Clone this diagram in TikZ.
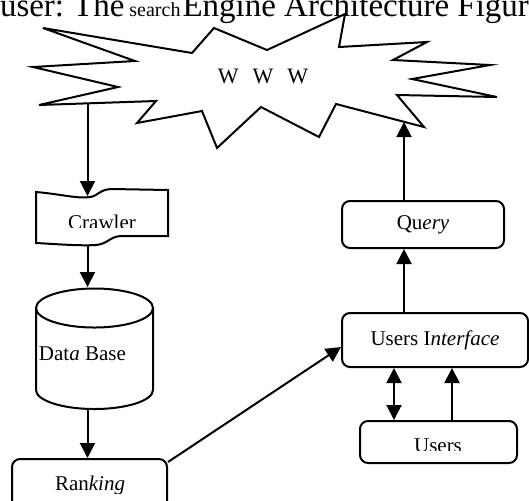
\documentclass[tikz,border=0pt]{standalone}
\usepackage{fontspec}
\setmainfont{Liberation Serif}
\usetikzlibrary{arrows.meta,calc,positioning,shapes.geometric}

\begin{document}
\begin{tikzpicture}[x=.5pt,y=-.5pt,
  line width=1pt,
  >={Triangle[length=7.5pt,width=7.5pt]},
  box/.style={draw,rounded corners=4pt,inner sep=0pt,
              font=\fontsize{10.5}{12}\selectfont},
  lab/.style={font=\fontsize{10.5}{12}\selectfont,inner sep=0pt,anchor=base}]
  \useasboundingbox (0,0) rectangle (529,500);
  \clip (0,0) rectangle (529,500);

  % caption line, cut by the top edge
  \node[anchor=base west,inner sep=0pt] (title) at (-1,16.5)
    {{\fontsize{16.5}{18}\selectfont user:\hspace{4.5pt}The\hspace{2.5pt}}%
     {\fontsize{10}{12}\selectfont search}%
     {\fontsize{16.5}{18}\selectfont\hspace{1pt}Engine Architecture Figure}};

  % the web
  \draw (43,28) -- (192,53) -- (214,28) -- (267,50) -- (345,14) -- (339,47)
    -- (427,42) -- (393,60) -- (490,65) -- (412,79) -- (497,97) -- (397,95)
    -- (424,127) -- (336,104) -- (319,137) -- (261,107) -- (217,148)
    -- (202,111) -- (137,123) -- (156,101) -- (39,105) -- (118,87)
    -- (33,67) -- (135,61) -- cycle;
  \node[inner sep=0pt,anchor=base,font=\fontsize{11}{12}\selectfont] (www)
    at (263,83) {W\hspace{7pt}W\hspace{7pt}W};
  \coordinate (lcol) at (87.5,103);
  \coordinate (rcol) at (404,122);

  % crawler (punched tape)
  \node[minimum width=66pt,minimum height=24pt,inner sep=0pt] (crawler) at (102,221) {};
  \draw (36,192) .. controls (60,194) and (78,199) .. (90,197)
    .. controls (98,196) and (100,189) .. (112,189) -- (168,190) -- (168,236)
    -- (122,236) .. controls (110,236) and (108,244) .. (96,245)
    .. controls (80,246) and (55,244) .. (36,243) -- cycle;
  \begin{scope}
    \clip (36,180) rectangle (168,227);
    \node[lab] (crawlertxt) at (102,229.5) {Crawler};
  \end{scope}

  % data base
  \node[minimum width=58.5pt,minimum height=60.5pt,inner sep=0pt] (db) at (94.5,348.5) {};
  \draw (36,308) -- (36,390)
    arc[start angle=180,end angle=360,x radius=29.25pt,y radius=9.5pt] -- (153,308);
  \draw (94.5,308) ellipse[x radius=29.25pt,y radius=9.75pt];
  \node[lab,anchor=base west] (dbtxt) at (38,360) {Dat\textit{a} Base};

  % ranking, cut by the bottom edge
  \node[box,minimum width=77.5pt,minimum height=25.5pt] (rank) at (89.5,484.5) {};
  \begin{scope}
    \clip (12,459) rectangle (167,493);
    \node[lab] (ranktxt) at (90,490) {Ran\textit{king}};
  \end{scope}

  % user side
  \node[box,minimum width=81pt,minimum height=23.5pt] (query) at (423,224.5) {Qu\textit{ery}};
  \node[box,minimum width=93pt,minimum height=27pt] (ui) at (435,340) {Users I\textit{nterface}};
  \node[box,minimum width=78.5pt,minimum height=21pt] (users) at (438.5,442) {};
  \begin{scope}
    \clip (360,421) rectangle (517,450);
    \node[lab] (userstxt) at (438,452) {Users};
  \end{scope}
  \coordinate (both) at (394,400);
  \coordinate (up) at (452,400);

  \draw[->] (lcol) -- (lcol |- crawler.north);
  \draw[->] (crawler.south -| lcol) -- (db.north -| lcol);
  \draw[->] (db.south -| lcol) -- (rank.north -| lcol);
  \draw[->] ([yshift=-2pt]rank.north east) -- ([yshift=-3.5pt]ui.west);
  \draw[->] (ui.north -| rcol) -- (query.south -| rcol);
  \draw[->] (query.north -| rcol) -- (rcol);
  \draw[<->] (ui.south -| both) -- (users.north -| both);
  \draw[->] (users.north -| up) -- (ui.south -| up);
\end{tikzpicture}
\end{document}
